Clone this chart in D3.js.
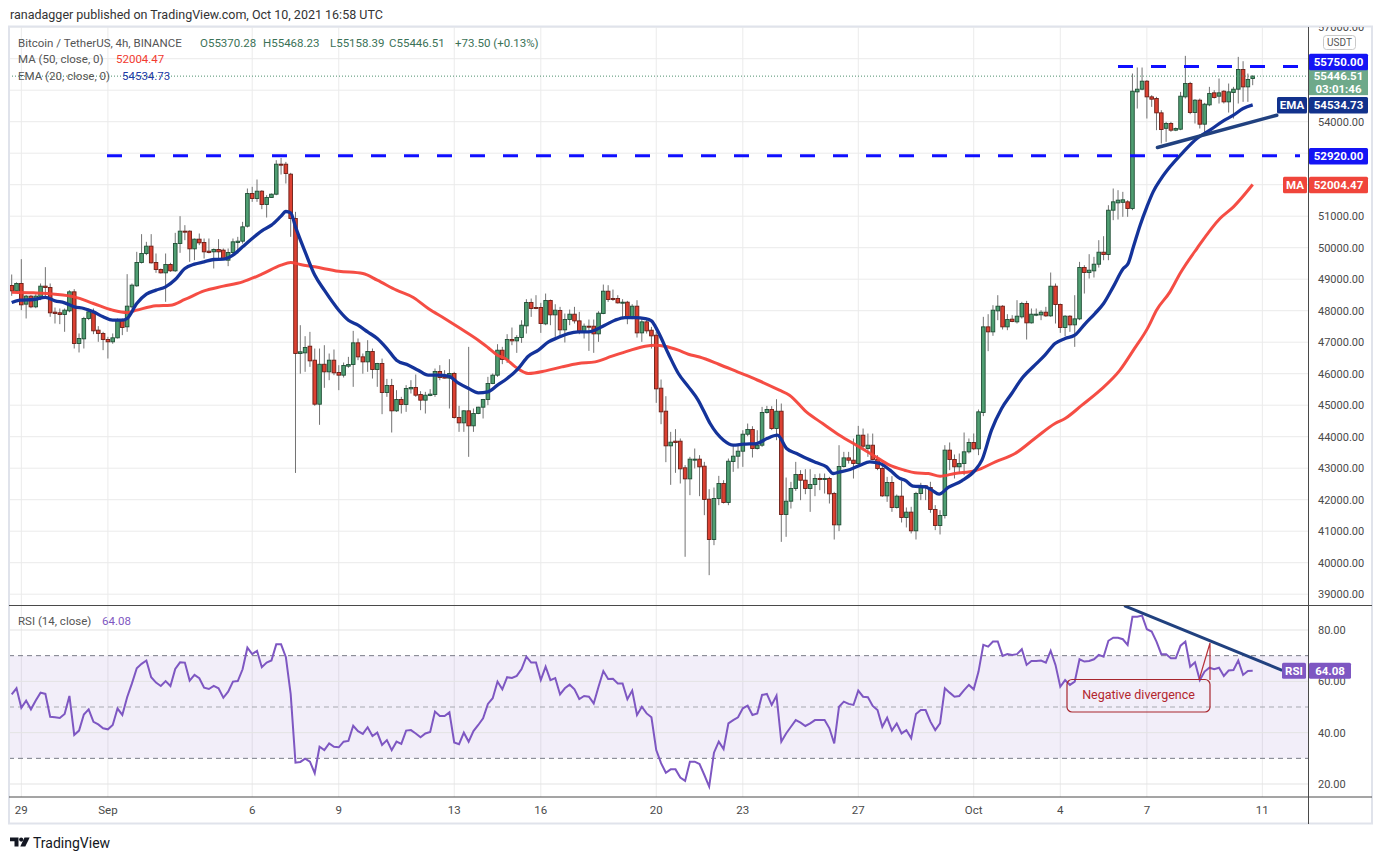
<!DOCTYPE html>
<html>
<head>
<meta charset="utf-8">
<script src="https://cdn.jsdelivr.net/npm/d3@7"></script>
<style>
body { margin: 0; background: #ffffff; }
svg { display: block; font-family: Roboto, "Liberation Sans", sans-serif; }
</style>
</head>
<body>
<svg id="chart" width="1382" height="860"></svg>
<script>

// 4h candles, BTC/USDT Binance, Aug 28 16:00 UTC -> Oct 10 16:00 UTC
var opens = [
48800,48631,48864,48208,48462,48123,48440,48779,48737,47954,
47933,47880,47996,48599,46959,47107,47753,47933,47382,47277,
47086,47012,47139,47700,47488,48123,48790,49530,49816,50049,
49530,49308,49202,49467,49266,50133,50525,50525,49964,50271,
50165,49890,49869,49943,49922,49604,49848,50165,50207,50683,
51720,51562,51794,51371,51593,51699,52651,52651,52334,50927,
46642,46662,46873,46429,45032,46300,46059,46429,46038,45953,
46239,46292,46980,46535,46376,46704,46133,46323,45403,45625,
44821,45181,45022,45519,45562,45339,45160,45307,45339,46069,
45900,45860,46006,44609,44440,44821,44345,44736,44937,45181,
45688,45953,46746,46450,47085,47042,47148,47519,48259,48100,
48100,47582,48323,47868,48005,47392,47720,47889,47677,47328,
47508,47508,47265,47910,48619,48386,48386,48249,48270,47804,
48143,47296,47646,47381,47222,45540,44810,43710,43858,43858,
43012,42662,43255,43287,43064,42016,40736,42038,42514,41911,
43212,43381,43540,44079,44228,43625,43730,44767,44862,44259,
44809,41530,41953,42355,42799,42619,42355,42482,42672,42640,
42672,42196,41202,43053,43328,43254,43148,44048,43625,43730,
43275,42990,42122,42545,41752,42112,41435,41605,41012,42197,
42441,42388,41689,41181,41499,43573,43276,43044,43149,43520,
43816,43615,44768,47487,47329,47995,48143,47487,47731,47646,
47805,48228,47614,47868,47868,47953,47836,48778,48196,47466,
47826,47551,47741,49370,49212,49265,49476,49857,49783,51191,
51424,51440,51456,51244,54947,55032,55286,54789,54736,54281,
53790,53942,53731,53762,54789,55212,54291,54683,53921,54535,
54916,54810,54968,54630,54926,55032,55656,55106,55370.28
];
var highs = [
49149,48900,49636,48500,48500,48520,48864,49382,48864,48100,
48070,48070,48650,48684,47277,47806,48070,48070,47509,47330,
47171,47277,47753,47753,49160,48864,49869,50430,50186,50430,
49816,49340,49816,49520,50472,51001,50715,50550,50290,50451,
50292,50292,49975,50271,49975,49975,50292,50345,50821,51879,
51932,52165,51826,51667,51720,52778,52852,52725,52376,51138,
47540,47191,47328,46799,46799,46905,46641,46768,46270,46355,
46535,47360,47117,46641,47064,46799,46344,46480,45836,45836,
45477,45265,45636,45794,45974,45445,45424,45509,46164,46270,
46112,46461,46059,44980,44842,46852,44895,44950,45200,45900,
46006,46937,46852,47254,47466,47222,47698,48365,48386,48492,
48249,48545,48354,48206,48122,47910,48037,48122,47963,47593,
47720,47720,47984,48830,48809,48672,48492,48365,48312,48206,
48333,47751,47751,47487,47328,45815,45286,44154,44239,43943,
43096,43361,43625,43414,43201,42334,42387,42757,42619,43307,
43730,43730,44206,44418,44333,44206,44947,44979,44968,45190,
45053,42704,42567,43201,42937,42969,42969,42810,42831,42831,
42725,42249,43730,43519,43519,43942,44344,44259,44100,44100,
43413,43096,42725,42746,42165,42598,41753,41774,42250,42536,
42462,42568,41827,41668,43731,43816,43435,43467,44133,43943,
44102,44863,47805,47889,48175,48492,48175,47889,47858,48334,
48281,48312,48069,48069,48016,48122,49212,48863,48228,47858,
47858,48492,49550,49444,49794,49709,50238,50365,51349,51879,
51826,51773,51509,55529,55720,55720,55320,54842,54789,54365,
53995,53995,53815,54947,56090,55265,54715,54736,54598,55106,
55000,55371,55000,55212,55106,56058,55921,55529,55468.23
];
var lows = [
48472,48600,48017,47753,48080,48080,48335,48440,47806,47594,
47573,47330,47950,46800,46674,46800,47700,47255,47012,46747,
46483,46950,47118,47224,47330,48070,48758,49498,49763,49498,
49202,49181,48282,49234,49234,49837,50239,49551,49604,50080,
49657,49820,49340,49657,49625,49414,49763,49816,50133,50641,
51456,51456,51223,50958,51583,51667,52323,52038,50345,42850,
46000,46059,46217,44980,44377,45551,45794,45953,45477,45879,
46186,45583,46429,46000,46059,45847,45583,44715,45265,44133,
44789,44736,44789,45371,45265,44842,44736,45286,45265,45794,
45850,44895,44578,44154,44154,43361,44154,44715,44578,45001,
45667,45900,46302,46344,46905,46662,46979,47275,47804,48048,
47296,47540,47540,47169,47169,46990,47540,47593,47254,47117,
46725,46662,47011,47889,48280,48312,48227,47783,47571,47730,
47148,47011,47275,46799,45075,44397,43191,42472,42853,42514,
40187,42144,42990,42112,41509,39604,40556,41826,41879,41826,
42884,42990,43043,44016,43339,43593,43677,44735,44209,43889,
40662,40821,41720,42281,41985,42175,41614,42112,42302,42196,
41879,40736,41001,43021,43148,42672,43096,43625,43360,43254,
42937,42090,41932,41614,41720,41276,41118,40928,40737,41986,
41986,41584,41034,40896,41404,42938,42673,42832,42779,43467,
43573,43414,44652,46715,47202,47699,47403,47381,47635,47593,
47752,47085,47593,47826,47699,47805,47805,47593,47297,47191,
47329,46852,47699,48545,49021,49053,49370,49603,49603,50874,
50895,50980,50980,51191,54418,55000,54101,54471,53731,53307,
53360,53678,53700,53731,54736,54238,53942,53784,53646,54492,
54736,54577,54577,54291,54101,54577,54630,54630,55158.39
];
var closes = [
48631,48864,48187,48462,48123,48462,48779,48737,47933,47912,
47880,48017,48599,46959,47118,47753,47964,47361,47277,47086,
47012,47139,47700,47467,48144,48811,49530,49816,50049,49520,
49308,49202,49467,49266,50133,50525,50500,49964,50271,50154,
49869,49848,49943,49869,49636,49848,50186,50207,50662,51720,
51562,51794,51371,51593,51699,52651,52640,52355,50927,46642,
46695,46831,46408,45032,46300,46059,46429,46027,45953,46260,
46292,46980,46535,46376,46704,46133,46323,45403,45625,44821,
45181,45022,45530,45562,45318,45160,45318,45350,46069,45879,
45860,46006,44609,44440,44821,44345,44736,44937,45181,45688,
45953,46746,46450,47085,47042,47148,47540,48259,48069,48069,
47593,48323,47868,48016,47392,47720,47889,47677,47328,47508,
47487,47265,47921,48619,48354,48354,48249,48270,47804,48143,
47296,47646,47360,47201,45519,44789,43710,43826,43816,42980,
42662,43287,43287,43043,42006,40736,42038,42514,41911,43222,
43381,43540,44079,44228,43625,43730,44767,44862,44259,44809,
41530,41953,42355,42799,42619,42355,42482,42672,42640,42672,
42186,41202,43053,43328,43254,43148,44048,43699,43730,43275,
42990,42122,42545,41752,42112,41434,41605,41012,42197,42441,
42388,41689,41181,41499,43573,43276,43044,43149,43520,43816,
43615,44789,47487,47329,48016,48143,47487,47720,47657,47826,
48228,47614,47889,47889,47953,47836,48778,48196,47466,47826,
47551,47741,49370,49212,49286,49476,49857,49783,51190,51456,
51509,51520,51244,54968,55032,55286,54789,54715,54281,53752,
53942,53731,53784,54810,55212,54291,54683,53921,54556,54894,
54767,54916,54630,54947,55032,55656,55106,55339,55446.51
];

// RSI (14, close), one value per candle
var rsiValues = [
54.9,57.3,49.7,52.5,49.1,52.5,55.6,55.1,46.2,46.0,
45.7,47.3,54.3,39.1,40.8,47.1,49.1,44.2,43.2,41.7,
41.3,43.0,49.4,46.9,53.8,59.2,65.1,66.8,68.1,61.6,
59.5,58.2,60.1,58.2,64.8,67.4,67.3,60.3,62.5,61.2,
57.5,57.0,58.2,57.3,53.6,56.0,59.9,60.1,64.7,73.1,
70.6,71.9,65.5,67.3,68.1,74.4,74.4,69.4,55.0,28.3,
28.6,29.9,28.7,24.2,34.5,33.2,35.8,34.5,34.3,36.5,
36.8,42.7,40.6,39.5,42.1,38.7,40.0,35.2,37.1,33.2,
36.5,35.6,40.8,41.0,39.7,38.2,39.7,40.3,48.2,46.5,
46.5,47.9,36.2,35.5,40.0,36.5,40.6,43.0,45.6,51.2,
53.4,59.9,56.9,61.6,61.3,62.1,64.8,69.6,67.3,67.3,
60.5,65.7,60.5,61.3,54.9,57.3,58.7,56.9,53.1,54.3,
54.0,51.4,57.9,64.0,60.9,61.0,59.2,59.2,53.0,56.4,
46.9,50.1,47.5,46.0,33.2,28.1,24.4,25.7,25.7,22.5,
21.2,28.7,28.7,27.8,23.5,19.0,32.2,36.5,33.6,43.6,
44.9,46.0,49.5,50.5,46.9,47.5,54.7,55.1,50.8,54.4,
36.5,39.7,42.3,44.9,43.9,42.6,43.6,44.9,44.9,44.9,
41.7,35.8,50.1,52.1,51.2,50.8,56.4,54.0,53.8,50.4,
48.8,42.3,45.8,40.8,43.6,39.7,41.0,37.8,47.3,48.8,
48.8,44.3,41.0,43.6,57.3,55.6,54.0,54.3,56.6,58.6,
56.9,63.8,74.2,73.5,75.5,75.5,69.9,70.6,70.3,70.6,
72.5,66.4,67.9,67.9,68.1,67.3,71.9,66.4,57.9,60.5,
58.6,59.9,68.6,67.7,67.9,68.6,70.3,69.6,75.8,77.0,
77.0,76.4,74.2,85.2,85.2,85.6,80.3,79.4,75.5,70.6,
70.6,69.0,69.0,73.9,75.5,65.7,67.4,60.5,63.8,65.3,
64.7,65.3,62.1,64.2,64.4,68.1,62.5,64.0,64.08
];

// EMA (20): candle position -> value
var emaIdx = [0,1.7,4.5,7,9,11,13,15,17,19,21,23,24,26,28,30,32,34,36,38,40,42,44,46,48,50,52,54,56,57,58,59,61,63,65,68,70,72,74,76,78,80,82.5,84.5,86.6,88.7,90.8,92.8,95,97,99,101,103,105.3,107.4,109.5,111.6,113.6,115.7,117.8,119.9,123.3,125.4,127.5,129.6,131.7,133,134.4,136.5,138.6,140.7,142.7,143.8,145.2,148,150,152.1,154.9,157,159.2,161.1,163.2,165.3,167.4,169.4,170.8,172.2,174.3,176.4,178.4,180.5,182.6,184.7,185.7,187.4,189.9,191.3,192.8,194.7,197.5,200.3,201.7,203.7,205.8,207.9,210,212.7,214.8,216.9,219,221,223.2,225.2,227,229,231.1,232.1,233.2,234.6,236,237.3,239,240.8,243.6,246.4,249.1,251.9,254,256,258];
var emaVals = [48260,48335,48356,48420,48314,48250,48123,48070,47964,47806,47700,47700,47753,48229,48525,48652,48758,48990,49340,49477,49551,49625,49636,49763,50027,50292,50535,50715,51001,51149,51107,50662,49869,49130,48651,48016,47699,47540,47328,47117,46799,46429,46270,46112,45953,45953,45921,45710,45530,45392,45424,45636,45847,46164,46556,46746,47011,47148,47275,47328,47328,47540,47698,47783,47783,47751,47677,47328,46640,46006,45582,45159,44841,44418,43889,43730,43762,43783,43942,44048,43625,43466,43307,43170,43043,42831,42884,42958,43096,43201,43148,42937,42672,42620,42430,42409,42303,42176,42388,42599,42938,43255,44207,44895,45371,45847,46270,46588,46958,47117,47223,47593,47910,48228,48757,49339,49498,50027,50714,51296,51772,52200,52567,53043,53466,53731,54027,54207,54418,54534.73];

// MA (50)
var maIdx = [0,4.5,9,13,17,21,24,26,30,33,36,40,44,48,52,56,58,60,63,68,73,76,80,83.5,86.6,90,93.3,97,99,101,102.6,104.7,107.4,111,114.4,117.8,121.3,124.8,128.2,131.7,133.7,135.8,138.6,140.7,143,147,151,155,159.6,161.7,165.2,168.6,172.1,175.6,179.1,182.5,185.6,187.8,190.6,193,196.1,200.3,204.5,208.6,212.7,216.9,219,222.5,226.3,230.4,233.2,236.3,238,240.8,242.9,246.4,251.2,254,258];
var maVals = [48588,48567,48525,48440,48229,48017,47943,48017,48155,48176,48356,48631,48779,48917,49160,49445,49530,49467,49392,49254,49180,48968,48651,48418,48069,47752,47434,47064,46831,46588,46482,46217,46006,46090,46217,46323,46376,46556,46725,46873,46905,46873,46746,46619,46530,46300,46050,45800,45476,45317,44788,44418,44048,43730,43413,43096,42937,42853,42832,42747,42832,42917,43202,43467,43943,44419,44578,45001,45477,46112,46747,47487,48016,48598,49180,49974,50926,51296,52004.47];

var priceTicks = [39000,40000,41000,42000,43000,44000,45000,46000,47000,48000,49000,50000,51000,52000,53000,54000,55000,56000,57000];
var rsiTicks = [20, 40, 60, 80];
var rsiLevels = [70, 50, 30];
var dateTicks = ["2021-08-29","2021-09-01","2021-09-06","2021-09-09","2021-09-13","2021-09-16","2021-09-20","2021-09-23","2021-09-27","2021-10-01","2021-10-04","2021-10-07","2021-10-11"];
var dateLabels = ["29","Sep","6","9","13","16","20","23","27","Oct","4","7","11"];

var resistance = 55750, support = 52920;
var lastClose = 55446.51, lastEma = 54534.73, lastMa = 52004.47, lastRsi = 64.08;
var lastChange = "+73.50 (+0.13%)";
// drawn lines: [candle position, value]
var triangleLine = [[238.2, 53181], [263, 54206]];
var rsiTrend = [[231.5, 89.3], [264, 64.4]];

var startTime = Date.UTC(2021, 7, 28, 16);
var barMs = 4 * 3600 * 1000;
function barTime(i) { return new Date(startTime + i * barMs); }

var svg = d3.select("#chart");
var left = 9, plotRight = 1308, axisRight = 1372;
var mainTop = 27, mainBottom = 605, rsiTop = 606, rsiBottom = 797, frameBottom = 824;

var x = d3.scaleTime().domain([barTime(0), barTime(258)]).range([11.7, 1252.7]);
var y = d3.scaleLinear().domain([39000, 54000]).range([594.2, 121.7]);
var yRsi = d3.scaleLinear().domain([20, 80]).range([784, 630]);
var fmt = d3.format(".2f");
var last = closes.length - 1;

var defs = svg.append("defs");
defs.append("clipPath").attr("id", "clipMain").append("rect")
  .attr("x", left).attr("y", mainTop).attr("width", plotRight - left).attr("height", mainBottom - mainTop);
defs.append("clipPath").attr("id", "clipRsi").append("rect")
  .attr("x", left).attr("y", rsiTop).attr("width", plotRight - left).attr("height", rsiBottom - rsiTop);
defs.append("clipPath").attr("id", "clipAxis").append("rect")
  .attr("x", plotRight).attr("y", mainTop).attr("width", axisRight - plotRight).attr("height", mainBottom - mainTop);

// header
svg.append("text").attr("x", 10).attr("y", 19).attr("font-size", 12.5).attr("fill", "#333")
  .text("ranadagger published on TradingView.com, Oct 10, 2021 16:58 UTC");

// GRID
var grid = svg.append("g");
grid.selectAll(".vgrid").data(dateTicks).enter().append("line")
  .attr("x1", function(d){ return x(new Date(d + "T00:00:00Z")); })
  .attr("x2", function(d){ return x(new Date(d + "T00:00:00Z")); })
  .attr("y1", mainTop).attr("y2", rsiBottom)
  .attr("stroke", "#ebebeb").attr("stroke-width", 1);
grid.append("g").attr("clip-path", "url(#clipMain)")
  .selectAll("line").data(priceTicks).enter().append("line")
  .attr("x1", left).attr("x2", plotRight)
  .attr("y1", function(d){ return y(d); }).attr("y2", function(d){ return y(d); })
  .attr("stroke", "#ebebeb").attr("stroke-width", 1);

// RSI band + levels
var rsiG = svg.append("g").attr("clip-path", "url(#clipRsi)");
rsiG.append("rect").attr("x", left).attr("width", plotRight - left)
  .attr("y", yRsi(70)).attr("height", yRsi(30) - yRsi(70))
  .attr("fill", "#7e57c2").attr("fill-opacity", 0.1);
rsiG.selectAll(".rgrid").data(rsiTicks).enter().append("line")
  .attr("x1", left).attr("x2", plotRight)
  .attr("y1", function(d){ return yRsi(d); }).attr("y2", function(d){ return yRsi(d); })
  .attr("stroke", "#e3e3e3").attr("stroke-width", 1);
rsiG.selectAll(".rlev").data(rsiLevels).enter().append("line")
  .attr("x1", left).attr("x2", plotRight)
  .attr("y1", function(d){ return yRsi(d); }).attr("y2", function(d){ return yRsi(d); })
  .attr("stroke", function(d){ return d == 50 ? "#a7a9b0" : "#787b86"; })
  .attr("stroke-dasharray", "5,4").attr("stroke-width", 1);

// CANDLES
var idx = d3.range(closes.length);
var main = svg.append("g").attr("clip-path", "url(#clipMain)");
var candle = main.selectAll(".candle").data(idx).enter().append("g");
candle.append("line")
  .attr("x1", function(i){ return x(barTime(i)); }).attr("x2", function(i){ return x(barTime(i)); })
  .attr("y1", function(i){ return y(highs[i]); }).attr("y2", function(i){ return y(lows[i]); })
  .attr("stroke", "#737373").attr("stroke-width", 1);
candle.append("rect")
  .attr("x", function(i){ return x(barTime(i)) - 1.8; })
  .attr("width", 3.6)
  .attr("y", function(i){ return y(Math.max(opens[i], closes[i])); })
  .attr("height", function(i){ return Math.max(1, y(Math.min(opens[i], closes[i])) - y(Math.max(opens[i], closes[i]))); })
  .attr("fill", function(i){ return closes[i] >= opens[i] ? "#4f9e72" : "#dc4132"; })
  .attr("stroke", function(i){ return closes[i] >= opens[i] ? "#1f4d34" : "#6b1d15"; })
  .attr("stroke-width", 0.9);

// MA / EMA
var lineGen = d3.line()
  .x(function(d){ return x(barTime(d[0])); })
  .y(function(d){ return y(d[1]); })
  .curve(d3.curveMonotoneX);
main.append("path").datum(d3.zip(maIdx, maVals)).attr("d", lineGen)
  .attr("fill", "none").attr("stroke", "#f4433a").attr("stroke-width", 3).attr("stroke-opacity", 0.95);
main.append("path").datum(d3.zip(emaIdx, emaVals)).attr("d", lineGen)
  .attr("fill", "none").attr("stroke", "#14339a").attr("stroke-width", 3.3);

// last price dotted
main.append("line").attr("x1", left).attr("x2", plotRight)
  .attr("y1", y(lastClose)).attr("y2", y(lastClose))
  .attr("stroke", "#4d8f6d").attr("stroke-dasharray", "1,2").attr("stroke-width", 1);

// horizontal levels
main.append("line").attr("x1", 1118).attr("x2", 1300)
  .attr("y1", y(resistance)).attr("y2", y(resistance))
  .attr("stroke", "#0f0fff").attr("stroke-width", 3).attr("stroke-dasharray", "15,18");
main.append("line").attr("x1", 107).attr("x2", 1300)
  .attr("y1", y(support)).attr("y2", y(support))
  .attr("stroke", "#0f0fff").attr("stroke-width", 3).attr("stroke-dasharray", "15,18");
main.append("line")
  .attr("x1", x(barTime(triangleLine[0][0]))).attr("y1", y(triangleLine[0][1]))
  .attr("x2", x(barTime(triangleLine[1][0]))).attr("y2", y(triangleLine[1][1]))
  .attr("stroke", "#21417f").attr("stroke-width", 3.5).attr("stroke-linecap", "round");

// RSI line
var rsiLine = d3.line()
  .x(function(d, i){ return x(barTime(i)); })
  .y(function(d){ return yRsi(d); });
rsiG.append("path").datum(rsiValues).attr("d", rsiLine)
  .attr("fill", "none").attr("stroke", "#7e57c2").attr("stroke-width", 2);
rsiG.append("line")
  .attr("x1", x(barTime(rsiTrend[0][0]))).attr("y1", yRsi(rsiTrend[0][1]))
  .attr("x2", x(barTime(rsiTrend[1][0]))).attr("y2", yRsi(rsiTrend[1][1]))
  .attr("stroke", "#21417f").attr("stroke-width", 3).attr("stroke-linecap", "round");

// Negative divergence callout
var note = rsiG.append("g");
note.append("rect").attr("x", 1067).attr("y", 679.5).attr("width", 143).attr("height", 32.5)
  .attr("rx", 5).attr("fill", "none").attr("stroke", "#a8262e").attr("stroke-width", 1.2);
note.append("path").attr("d", "M1199,680 L1210,643 L1210,680")
  .attr("fill", "none").attr("stroke", "#b7323a").attr("stroke-width", 1.2);
note.append("text").attr("x", 1138.5).attr("y", 699).attr("text-anchor", "middle")
  .attr("font-size", 12.5).attr("fill", "#b3262e").text("Negative divergence");

// FRAME + separators
svg.append("rect").attr("x", left).attr("y", mainTop - 0.5).attr("width", axisRight - left).attr("height", frameBottom - mainTop)
  .attr("fill", "none").attr("stroke", "#e0e3eb").attr("stroke-width", 2);
svg.append("line").attr("x1", left).attr("x2", axisRight).attr("y1", 605.5).attr("y2", 605.5).attr("stroke", "#4a4a4a");
svg.append("line").attr("x1", left).attr("x2", axisRight).attr("y1", 797).attr("y2", 797).attr("stroke", "#4a4a4a");
svg.append("line").attr("x1", plotRight + 0.5).attr("x2", plotRight + 0.5).attr("y1", mainTop).attr("y2", frameBottom).attr("stroke", "#4a4a4a");

// PRICE TAGS (positions first, so covered axis labels can be left out)
var tagH = 16.5;
var greenTop = y(lastClose) - 8;
var tags = [
  { x: 1309, w: 59, top: Math.min(y(resistance) - tagH / 2, greenTop + 2 - tagH), h: tagH, fill: "#1414f5", label: fmt(resistance) },
  { x: 1309, w: 59, top: y(support) - tagH / 2 + 0.5, h: tagH, fill: "#1414f5", label: fmt(support) },
  { x: 1277, w: 30, top: y(lastEma) - tagH / 2 + 0.5, h: tagH, fill: "#12328c", label: "EMA" },
  { x: 1309, w: 59, top: y(lastEma) - tagH / 2 + 0.5, h: tagH, fill: "#12328c", label: fmt(lastEma) },
  { x: 1283, w: 24, top: y(lastMa) - tagH / 2 + 0.5, h: tagH, fill: "#f0453b", label: "MA" },
  { x: 1309, w: 59, top: y(lastMa) - tagH / 2 + 0.5, h: tagH, fill: "#f0453b", label: fmt(lastMa) },
  { x: 1282, w: 24, top: yRsi(lastRsi) - 8, h: 16, fill: "#7e57c2", label: "RSI" },
  { x: 1309, w: 42, top: yRsi(lastRsi) - 8, h: 16, fill: "#7e57c2", label: fmt(lastRsi) }
];
var covered = [[greenTop, greenTop + 27]];
tags.forEach(function(t){ if (t.x > 1300) covered.push([t.top, t.top + t.h]); });
function hidden(py) {
  return covered.some(function(c){ return py > c[0] - 6 && py < c[1] + 6; });
}

// PRICE AXIS
var axisG = svg.append("g").attr("clip-path", "url(#clipAxis)");
axisG.selectAll("text").data(priceTicks.filter(function(d){ return !hidden(y(d)); })).enter().append("text")
  .attr("x", 1318).attr("y", function(d){ return y(d); }).attr("dy", "0.35em")
  .attr("font-size", 11).attr("fill", "#4a4a4a").text(function(d){ return fmt(d); });
svg.selectAll(".rsitick").data(rsiTicks).enter().append("text")
  .attr("x", 1318).attr("y", function(d){ return yRsi(d); }).attr("dy", "0.35em")
  .attr("font-size", 11).attr("fill", "#4a4a4a").text(function(d){ return fmt(d); });

// USDT box
svg.append("rect").attr("x", 1323.5).attr("y", 35.5).attr("width", 32).attr("height", 14).attr("rx", 3)
  .attr("fill", "#fff").attr("stroke", "#c9c9c9");
svg.append("text").attr("x", 1339.5).attr("y", 46).attr("text-anchor", "middle")
  .attr("font-size", 10).attr("fill", "#555").text("USDT");

// last price tag (two lines)
svg.append("rect").attr("x", 1309).attr("y", greenTop).attr("width", 59).attr("height", 27).attr("fill", "#6ea98a");
svg.append("text").attr("x", 1338.5).attr("y", greenTop + 12).attr("text-anchor", "middle")
  .attr("font-size", 11.5).attr("font-weight", "bold").attr("fill", "#fff").text(fmt(lastClose));
svg.append("text").attr("x", 1338.5).attr("y", greenTop + 24.5).attr("text-anchor", "middle")
  .attr("font-size", 11.5).attr("font-weight", "bold").attr("fill", "#fff").text("03:01:46");

var tagG = svg.selectAll(".tag").data(tags).enter().append("g");
tagG.append("rect")
  .attr("x", function(t){ return t.x; }).attr("y", function(t){ return t.top; })
  .attr("width", function(t){ return t.w; }).attr("height", function(t){ return t.h; })
  .attr("rx", 1.5).attr("fill", function(t){ return t.fill; });
tagG.append("text")
  .attr("x", function(t){ return t.x + t.w / 2; }).attr("y", function(t){ return t.top + t.h / 2; })
  .attr("dy", "0.35em").attr("text-anchor", "middle")
  .attr("font-size", 11.5).attr("font-weight", "bold").attr("fill", "#fff")
  .text(function(t){ return t.label; });

// DATE AXIS
svg.selectAll(".dlabel").data(dateTicks).enter().append("text")
  .attr("x", function(d){ return x(new Date(d + "T00:00:00Z")); })
  .attr("y", 814).attr("text-anchor", "middle")
  .attr("font-size", 11.5).attr("fill", "#4a4a4a")
  .text(function(d, i){ return dateLabels[i]; });

// LEGENDS
var leg = svg.append("g").attr("font-size", 11.5);
var l1 = leg.append("text").attr("x", 18).attr("y", 46.5);
l1.append("tspan").attr("fill", "#555").text("Bitcoin / TetherUS, 4h, BINANCE");
l1.append("tspan").attr("x", 200).attr("fill", "#3b7257").text("O" + fmt(opens[last]));
l1.append("tspan").attr("x", 263).attr("fill", "#3b7257").text("H" + fmt(highs[last]));
l1.append("tspan").attr("x", 330).attr("fill", "#3b7257").text("L" + fmt(lows[last]));
l1.append("tspan").attr("x", 389).attr("fill", "#3b7257").text("C" + fmt(closes[last]));
l1.append("tspan").attr("x", 455).attr("fill", "#3b7257").text(lastChange);
var l2 = leg.append("text").attr("x", 18).attr("y", 63);
l2.append("tspan").attr("fill", "#555").text("MA (50, close, 0)");
l2.append("tspan").attr("x", 116).attr("fill", "#f23b30").text(fmt(lastMa));
var l3 = leg.append("text").attr("x", 18).attr("y", 80);
l3.append("tspan").attr("fill", "#555").text("EMA (20, close, 0)");
l3.append("tspan").attr("x", 122).attr("fill", "#2039a5").text(fmt(lastEma));
var l4 = leg.append("text").attr("x", 18).attr("y", 625);
l4.append("tspan").attr("fill", "#555").text("RSI (14, close)");
l4.append("tspan").attr("x", 102).attr("fill", "#7e57c2").text(fmt(lastRsi));

// TradingView mark
var logo = svg.append("g").attr("fill", "#131722");
logo.append("path").attr("d", "M10,837.5 h8.5 v9 h-4 v-5.2 h-4.5 z");
logo.append("circle").attr("cx", 21.2).attr("cy", 839.6).attr("r", 2.1);
logo.append("path").attr("d", "M24.5,837.5 h5.2 l-4.4,9 h-5 z");
svg.append("text").attr("x", 33).attr("y", 847.5).attr("font-size", 14).attr("fill", "#131722").text("TradingView");

</script>
</body>
</html>
